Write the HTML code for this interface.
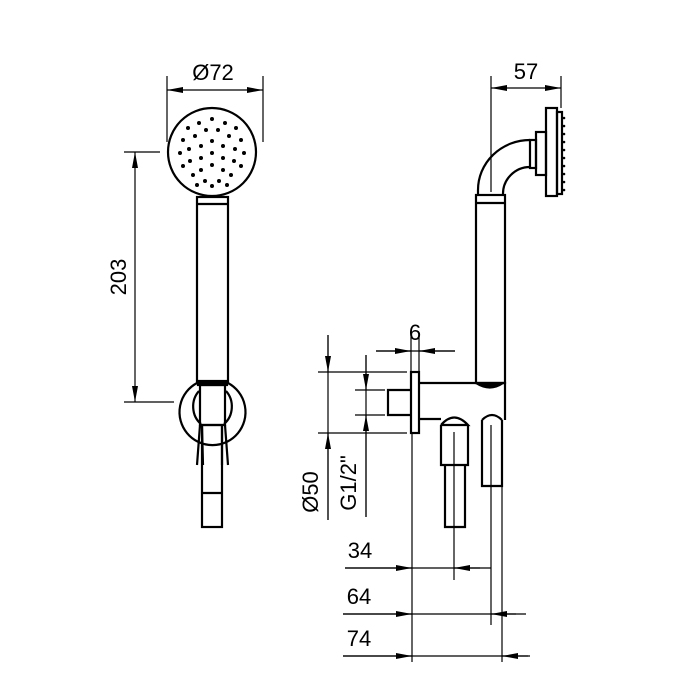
<!DOCTYPE html>
<html><head><meta charset="utf-8"><style>html,body{margin:0;padding:0;background:#fff}svg{display:block}</style></head>
<body>
<svg width="700" height="700" viewBox="0 0 700 700" xmlns="http://www.w3.org/2000/svg">
<defs>
<marker id="a" viewBox="0 0 16 6" refX="16" refY="3" markerWidth="16" markerHeight="6" markerUnits="userSpaceOnUse" orient="auto"><path d="M0,0L16,3L0,6z" fill="#000"/></marker>
</defs>
<g fill="none" stroke="#000" stroke-width="1.2">
<line x1="167" y1="76" x2="167" y2="142"/><line x1="263" y1="76" x2="263" y2="142"/>
<line x1="213" y1="90" x2="167" y2="90" marker-end="url(#a)"/><line x1="213" y1="90" x2="263" y2="90" marker-end="url(#a)"/>
<line x1="124" y1="152" x2="160" y2="152"/><line x1="124" y1="402" x2="174" y2="402"/>
<line x1="135" y1="277" x2="135" y2="152" marker-end="url(#a)"/><line x1="135" y1="277" x2="135" y2="402" marker-end="url(#a)"/>
</g>
<g fill="none" stroke="#000" stroke-width="2.2">
<circle cx="212" cy="152" r="44"/>
<rect x="197" y="197" width="31" height="186"/>
<line x1="197" y1="204" x2="228" y2="204"/>
<path d="M197,383 A33,33 0 1 0 228,383"/>
<path d="M199,391 A20,22 0 0 0 201,424 M226,391 A20,22 0 0 1 224,424"/>
<rect x="198" y="381" width="29" height="4" fill="#000"/>
<rect x="200" y="385" width="25" height="40"/>
<path d="M200,425 L197,465 M225,425 L228,465 M202,425 L203,465 M222,425 L222,465"/>
<rect x="202" y="425" width="20" height="102"/>
<line x1="202" y1="493" x2="222" y2="493"/>
</g>
<g fill="#000">
<circle cx="212" cy="119" r="2"/><circle cx="199" cy="123" r="2"/><circle cx="225" cy="123" r="2"/><circle cx="188" cy="128" r="2"/><circle cx="236" cy="128" r="2"/>
<circle cx="206" cy="130" r="2"/><circle cx="218" cy="130" r="2"/><circle cx="195" cy="136" r="2"/><circle cx="229" cy="136" r="2"/><circle cx="183" cy="140" r="2"/><circle cx="241" cy="140" r="2"/>
<circle cx="212" cy="141" r="2"/><circle cx="201" cy="146" r="2"/><circle cx="223" cy="146" r="2"/><circle cx="189" cy="149" r="2"/><circle cx="235" cy="149" r="2"/><circle cx="180" cy="153" r="2"/><circle cx="244" cy="153" r="2"/>
<circle cx="212" cy="153" r="2"/><circle cx="201" cy="158" r="2"/><circle cx="223" cy="158" r="2"/><circle cx="190" cy="161" r="2"/><circle cx="234" cy="161" r="2"/><circle cx="183" cy="166" r="2"/><circle cx="241" cy="166" r="2"/>
<circle cx="212" cy="165" r="2"/><circle cx="201" cy="170" r="2"/><circle cx="223" cy="170" r="2"/><circle cx="193" cy="175" r="2"/><circle cx="231" cy="175" r="2"/><circle cx="205" cy="181" r="2"/><circle cx="219" cy="181" r="2"/><circle cx="212" cy="186" r="2"/><circle cx="197" cy="185" r="2"/><circle cx="227" cy="185" r="2"/>
</g>
<g fill="none" stroke="#000" stroke-width="1.2">
<line x1="491" y1="76" x2="491" y2="192"/><line x1="561" y1="76" x2="561" y2="108"/>
<line x1="526" y1="88" x2="491" y2="88" marker-end="url(#a)"/><line x1="526" y1="88" x2="561" y2="88" marker-end="url(#a)"/>
</g>
<g fill="none" stroke="#000" stroke-width="2.2">
<rect x="476" y="195" width="29" height="188"/>
<line x1="476" y1="203" x2="505" y2="203"/>
<path d="M478,195 L478,190 A52,50 0 0 1 530,140"/>
<path d="M503,195 A27,27 0 0 1 530,167"/>
<rect x="530" y="140" width="6" height="28"/>
<rect x="536" y="132" width="10" height="43"/>
<rect x="546" y="108" width="11" height="88"/>
<rect x="557" y="112" width="5" height="82"/>
</g>
<g fill="#000"><circle cx="564" cy="118" r="1.3"/><circle cx="564" cy="126" r="1.3"/><circle cx="564" cy="134" r="1.3"/><circle cx="564" cy="142" r="1.3"/><circle cx="564" cy="150" r="1.3"/><circle cx="564" cy="158" r="1.3"/><circle cx="564" cy="166" r="1.3"/><circle cx="564" cy="174" r="1.3"/><circle cx="564" cy="182" r="1.3"/><circle cx="564" cy="190" r="1.3"/></g>
<g fill="none" stroke="#000" stroke-width="2.2">
<rect x="411" y="372" width="8" height="61"/>
<path d="M411,390 L388,390 L388,415 L411,415"/>
<path d="M419,383 L505,383 L505,420 M419,419 L441,419"/>
<path d="M476,383 Q490,392 503,383" fill="#000"/>
<path d="M441,425 Q454,410 468,425 L441,425 M441,425 L441,465 L468,465 L468,425 M445,465 L445,527 L465,527 L465,465"/>
<path d="M482,420 Q492,410 502,420 M482,420 L482,486 L502,486 L502,420"/>
</g>
<g fill="none" stroke="#000" stroke-width="1.2">
<line x1="454" y1="432" x2="454" y2="580"/>
<line x1="491" y1="425" x2="491" y2="625"/>
<line x1="412" y1="433" x2="412" y2="662"/>
<line x1="502" y1="486" x2="502" y2="662"/>
<line x1="411" y1="335" x2="411" y2="372"/><line x1="419" y1="335" x2="419" y2="372"/>
<line x1="376" y1="351" x2="455" y2="351"/>
<line x1="376" y1="351" x2="411" y2="351" marker-end="url(#a)"/><line x1="455" y1="351" x2="419" y2="351" marker-end="url(#a)"/>
<line x1="318" y1="372" x2="407" y2="372"/><line x1="318" y1="433" x2="407" y2="433"/>
<line x1="328" y1="335" x2="328" y2="520"/>
<line x1="328" y1="335" x2="328" y2="372" marker-end="url(#a)"/><line x1="328" y1="520" x2="328" y2="433" marker-end="url(#a)"/>
<line x1="355" y1="390" x2="385" y2="390"/><line x1="355" y1="415" x2="385" y2="415"/>
<line x1="366" y1="355" x2="366" y2="517"/>
<line x1="366" y1="355" x2="366" y2="390" marker-end="url(#a)"/><line x1="366" y1="517" x2="366" y2="415" marker-end="url(#a)"/>
<line x1="345" y1="568" x2="491" y2="568"/>
<line x1="345" y1="568" x2="412" y2="568" marker-end="url(#a)"/><line x1="480" y1="568" x2="454" y2="568" marker-end="url(#a)"/>
<line x1="343" y1="614" x2="526" y2="614"/>
<line x1="343" y1="614" x2="412" y2="614" marker-end="url(#a)"/><line x1="516" y1="614" x2="491" y2="614" marker-end="url(#a)"/>
<line x1="343" y1="656" x2="530" y2="656"/>
<line x1="343" y1="656" x2="412" y2="656" marker-end="url(#a)"/><line x1="528" y1="656" x2="502" y2="656" marker-end="url(#a)"/>
</g>
<g font-family="Liberation Sans, sans-serif" font-size="22" fill="#000">
<text x="213" y="80" text-anchor="middle">Ø72</text>
<text x="526" y="79" text-anchor="middle">57</text>
<text x="415" y="340" text-anchor="middle">6</text>
<text x="360" y="558" text-anchor="middle">34</text>
<text x="359" y="604" text-anchor="middle">64</text>
<text x="359" y="646" text-anchor="middle">74</text>
<text transform="translate(126,277) rotate(-90)" text-anchor="middle">203</text>
<text transform="translate(318,492) rotate(-90)" text-anchor="middle">Ø50</text>
<text transform="translate(356,483) rotate(-90)" text-anchor="middle">G1/2"</text>
</g>
</svg>
</body></html>
